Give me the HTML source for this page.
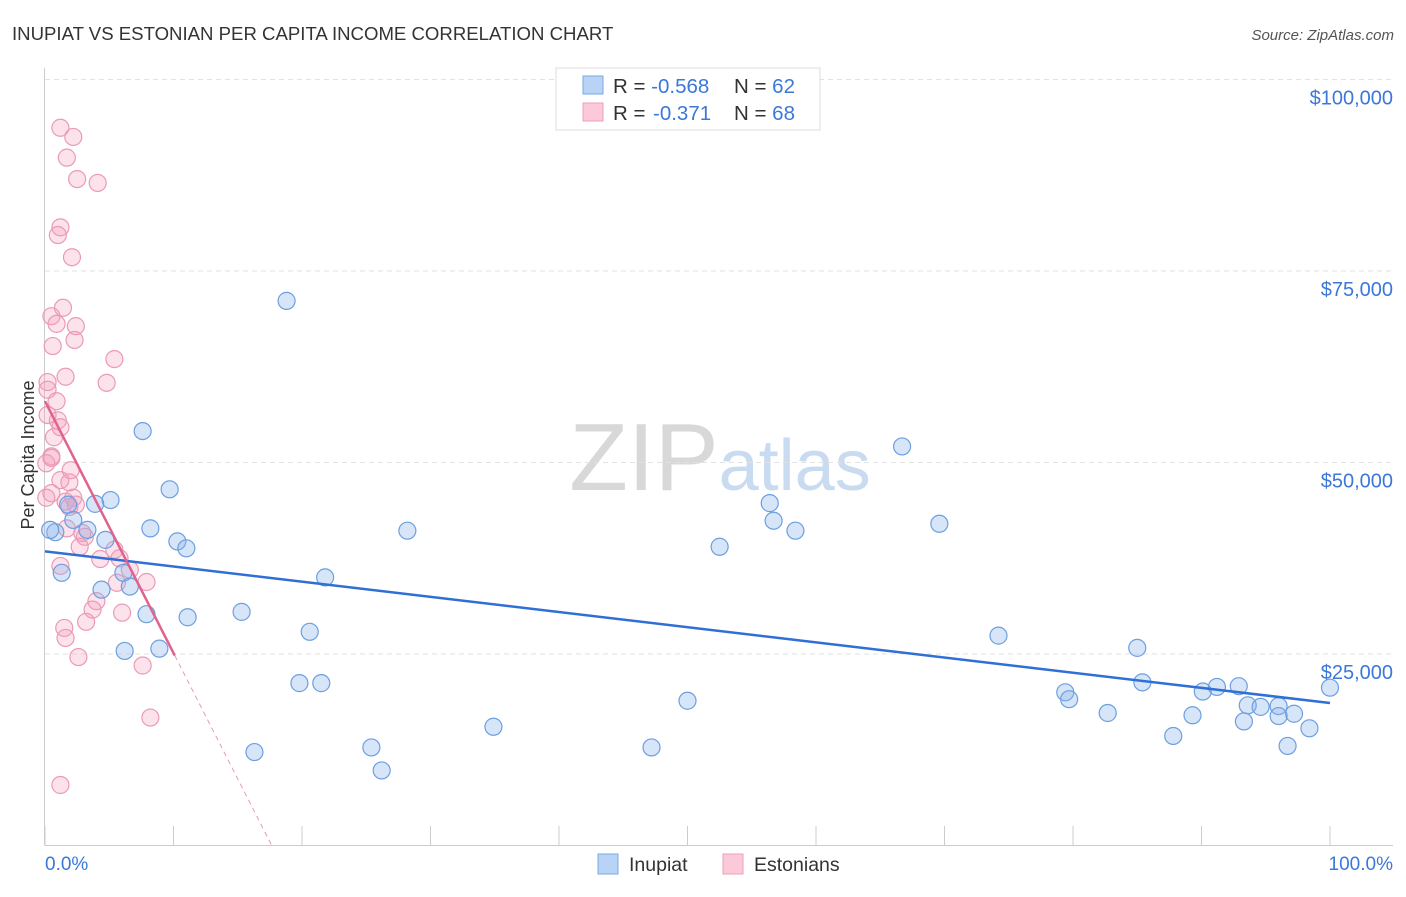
<!DOCTYPE html>
<html><head><meta charset="utf-8">
<style>
body{margin:0;background:#fff;font-family:"Liberation Sans",sans-serif;}
svg text{font-family:"Liberation Sans",sans-serif;}
</style></head>
<body>
<svg id="chart" width="1406" height="892">
<text x="12" y="40" font-size="18.6" fill="#333">INUPIAT VS ESTONIAN PER CAPITA INCOME CORRELATION CHART</text>
<text x="1394" y="40" font-size="15" fill="#555" font-style="italic" text-anchor="end">Source: ZipAtlas.com</text>
<text x="720" y="490" font-size="96" fill="#ddd" text-anchor="middle" font-family="Liberation Serif"><tspan fill="#d8d8d8">ZIP</tspan><tspan fill="#c8dbf0" font-family="Liberation Sans" font-size="72">atlas</tspan></text>
<g id="grid"></g>
<g id="axes"></g>
<g id="marks"></g>
<g id="trends"></g>
<text x="34" y="455" font-size="18" fill="#333" text-anchor="middle" transform="rotate(-90 34 455)">Per Capita Income</text>
<g>
<rect x="556" y="68" width="264" height="62" fill="#fff" stroke="#ddd"/>
<rect x="583" y="76" width="20" height="18" fill="#b8d3f5" stroke="#7aa8e6"/>
<rect x="583" y="103" width="20" height="18" fill="#fcc9d8" stroke="#ee9fbb"/>
<text x="613" y="93" font-size="20.5" fill="#333">R = <tspan fill="#3b78d8">-0.568</tspan><tspan x="734">N = </tspan><tspan fill="#3b78d8">62</tspan></text>
<text x="613" y="120" font-size="20.5" fill="#333">R = <tspan fill="#3b78d8" x="653">-0.371</tspan><tspan x="734">N = </tspan><tspan fill="#3b78d8">68</tspan></text>
</g>
<g>
<rect x="598" y="854" width="20" height="20" fill="#b8d3f5" stroke="#7aa8e6"/>
<text x="629" y="871" font-size="19.5" fill="#333">Inupiat</text>
<rect x="723" y="854" width="20" height="20" fill="#fcc9d8" stroke="#ee9fbb"/>
<text x="754" y="871" font-size="19.5" fill="#333">Estonians</text>
</g>
</svg>
<script>
const blueX=[18.8,7.6,66.7,9.7,5.1,3.9,1.8,56.4,2.2,8.2,3.3,56.7,28.2,58.4,69.6,0.8,10.3,11.0,4.7,52.5,1.3,6.1,21.8,4.4,6.6,7.9,11.1,15.3,20.6,74.2,6.2,8.9,85.0,19.8,21.5,85.4,79.4,79.7,90.1,91.2,92.9,100,50.0,93.6,94.6,96.0,82.7,89.3,97.2,96.0,93.3,98.4,34.9,87.8,96.7,16.3,25.4,47.2,26.2,0.4];
const blueY=[71100,54100,52100,46500,45100,44600,44500,44700,42500,41400,41200,42400,41100,41100,42000,40900,39700,38800,39900,39000,35600,35600,35000,33400,33800,30200,29800,30500,27900,27400,25400,25700,25800,21200,21200,21300,20000,19100,20100,20700,20800,20600,18900,18300,18100,18200,17300,17000,17200,16900,16200,15300,15500,14300,13000,12200,12800,12800,9800,41200];
const pinkX=[1.2,2.2,1.7,2.5,4.1,1.2,1.0,2.1,1.4,0.5,0.9,2.4,2.3,0.6,5.4,1.6,4.8,0.2,0.2,0.9,1.0,0.2,1.2,0.7,0.5,0.5,2.0,0.1,1.2,1.9,0.5,2.2,0.1,1.6,2.4,1.9,2.9,1.7,3.1,2.7,5.4,5.8,4.3,1.2,6.6,7.9,5.6,4.0,3.7,6.0,3.2,1.5,1.6,2.6,7.6,8.2,1.2];
const pinkY=[93700,92500,89800,87000,86500,80700,79700,76800,70200,69100,68100,67800,66000,65200,63500,61200,60400,60500,59500,58000,55500,56200,54600,53300,50800,50600,49000,49900,47700,47400,46000,45400,45400,44900,44500,44200,40800,41400,40300,39000,38600,37500,37400,36500,36000,34400,34300,31900,30800,30400,29200,28400,27100,24600,23500,16700,7900];
const blueTrend=[38400,18600];
const pinkTrend=[58000,-328700]; // intercept, slope per 100%
const yTicks=[25000,50000,75000,100000];
const yTickLabels=["$25,000","$50,000","$75,000","$100,000"];
const xTicks=[0,10,20,30,40,50,60,70,80,90,100];
const NS='http://www.w3.org/2000/svg';
const sx=v=>45+v*12.85;
const sy=v=>845.5-v/130.55;
function mk(tag,attrs,parent){const e=document.createElementNS(NS,tag);for(const k in attrs)e.setAttribute(k,attrs[k]);document.getElementById(parent).appendChild(e);return e;}
yTicks.forEach((t,i)=>{
 const g=mk('line',{x1:45,x2:1393,y1:sy(t),y2:sy(t),stroke:'#e2e2e2','stroke-dasharray':'5,4'},'grid');
 
 
 const l=mk('text',{x:1393,y:sy(t)+25,'font-size':20,fill:'#3b78d8','text-anchor':'end'},'axes');
 l.textContent=yTickLabels[i];
 
 
});
const xa=mk('line',{x1:45,x2:1393,y1:845.5,y2:845.5,stroke:'#ccc'},'axes');


const ya=mk('line',{x1:44.5,x2:44.5,y1:68,y2:845.5,stroke:'#ccc'},'axes');


xTicks.forEach(t=>{const e=mk('line',{x1:sx(t),x2:sx(t),y1:826,y2:845.5,stroke:'#ccc'},'axes');
 
 });
const x0=mk('text',{x:45,y:870,'font-size':19,fill:'#3b78d8'},'axes');x0.textContent='0.0%';


const x1=mk('text',{x:1393,y:870,'font-size':19,fill:'#3b78d8','text-anchor':'end'},'axes');x1.textContent='100.0%';


pinkX.forEach((x,i)=>{const c=mk('circle',{cx:sx(x),cy:sy(pinkY[i]),r:8.5,fill:'rgba(246,160,190,0.3)',stroke:'#eb9ab6','stroke-width':1.2},'marks');
 
 });
blueX.forEach((x,i)=>{const c=mk('circle',{cx:sx(x),cy:sy(blueY[i]),r:8.5,fill:'rgba(140,180,235,0.35)',stroke:'#6c9fe0','stroke-width':1.2},'marks');
 
 });
const bt=mk('line',{x1:sx(0),y1:sy(blueTrend[0]),x2:sx(100),y2:sy(blueTrend[1]),stroke:'#2f6fd6','stroke-width':2.5},'trends');


const pe=10.1, pz=-pinkTrend[0]/pinkTrend[1]*100;
const pf=x=>pinkTrend[0]+pinkTrend[1]*x/100;
const pt=mk('line',{x1:sx(0),y1:sy(pf(0)),x2:sx(pe),y2:sy(pf(pe)),stroke:'#e0628f','stroke-width':2.5},'trends');


const pd=mk('line',{x1:sx(pe),y1:sy(pf(pe)),x2:sx(pz),y2:sy(0),stroke:'#eb9ab6','stroke-width':1,'stroke-dasharray':'5,4'},'trends');


</script>
</body></html>
